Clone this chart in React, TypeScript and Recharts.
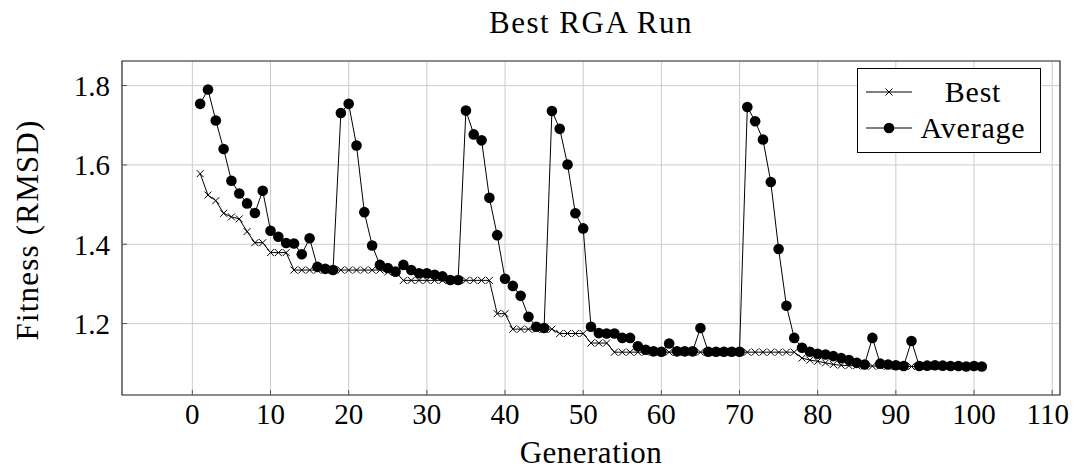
import { LineChart, Line, XAxis, YAxis, CartesianGrid, Legend, ReferenceArea } from 'recharts';

const FONT = '"Liberation Serif", "Times New Roman", serif';

// generations 1..101
const generations = Array.from({ length: 101 }, (_, i) => i + 1);

const bestFitness = [
  1.578, 1.524, 1.510, 1.478, 1.469, 1.464, 1.432, 1.404, 1.404, 1.379,
  1.379, 1.379, 1.335, 1.335, 1.335, 1.335, 1.335, 1.335, 1.335, 1.335,
  1.335, 1.335, 1.335, 1.335, 1.330, 1.330, 1.309, 1.309, 1.309, 1.309,
  1.309, 1.309, 1.309, 1.309, 1.309, 1.309, 1.309, 1.309, 1.225, 1.225,
  1.186, 1.186, 1.186, 1.186, 1.186, 1.186, 1.175, 1.175, 1.175, 1.175,
  1.151, 1.151, 1.151, 1.128, 1.128, 1.128, 1.128, 1.128, 1.128, 1.128,
  1.128, 1.128, 1.128, 1.128, 1.128, 1.128, 1.128, 1.128, 1.128, 1.128,
  1.128, 1.128, 1.128, 1.128, 1.128, 1.128, 1.128, 1.113, 1.108, 1.105,
  1.101, 1.097, 1.095, 1.094, 1.094, 1.093, 1.093, 1.093, 1.093, 1.093,
  1.093, 1.092, 1.092, 1.092, 1.092, 1.092, 1.092, 1.092, 1.092, 1.092,
  1.092,
];

const averageFitness = [
  1.754, 1.790, 1.712, 1.640, 1.560, 1.528, 1.503, 1.479, 1.535, 1.434,
  1.419, 1.403, 1.402, 1.375, 1.415, 1.343, 1.338, 1.335, 1.731, 1.754,
  1.649, 1.481, 1.397, 1.348, 1.340, 1.331, 1.348, 1.335, 1.327, 1.327,
  1.323, 1.319, 1.310, 1.310, 1.737, 1.677, 1.662, 1.517, 1.423, 1.313,
  1.295, 1.270, 1.217, 1.192, 1.189, 1.736, 1.691, 1.601, 1.478, 1.440,
  1.192, 1.176, 1.175, 1.175, 1.164, 1.164, 1.143, 1.134, 1.130, 1.129,
  1.150, 1.130, 1.130, 1.130, 1.189, 1.129, 1.129, 1.129, 1.129, 1.129,
  1.746, 1.710, 1.664, 1.557, 1.388, 1.245, 1.164, 1.139, 1.129, 1.124,
  1.122, 1.118, 1.113, 1.108, 1.101, 1.097, 1.164, 1.099, 1.097, 1.095,
  1.093, 1.156, 1.093, 1.094, 1.095, 1.094, 1.093, 1.093, 1.092, 1.093,
  1.092,
];

const xTicks = [0, 10, 20, 30, 40, 50, 60, 70, 80, 90, 100, 110];
const yTicks = [1.2, 1.4, 1.6, 1.8];

const data = generations.map((g, i) => ({
  gen: g,
  best: bestFitness[i],
  average: averageFitness[i],
}));

const CrossDot = (props: any) => {
  const { cx, cy, index } = props;
  if (cx == null || cy == null) return null;
  const s = 3.5;
  return (
    <path
      key={`cross-${index}`}
      d={`M${cx - s},${cy - s}L${cx + s},${cy + s}M${cx - s},${cy + s}L${cx + s},${cy - s}`}
      stroke="#000"
      strokeWidth={1}
      fill="none"
    />
  );
};

const renderLegend = () => {
  const row = (label: string, marker: 'cross' | 'dot') => (
    <div style={{ display: 'flex', alignItems: 'center', height: 36 }}>
      <svg width={60} height={36}>
        <line x1={8} y1={18} x2={54} y2={18} stroke="#000" strokeWidth={1} />
        {marker === 'cross' ? (
          <path d="M27.5,14.5L34.5,21.5M27.5,21.5L34.5,14.5" stroke="#000" strokeWidth={1} />
        ) : (
          <circle cx={31} cy={18} r={5.3} fill="#000" />
        )}
      </svg>
      <span style={{ width: 110, textAlign: 'center', lineHeight: '36px', letterSpacing: 0.8 }}>
        {label}
      </span>
    </div>
  );
  return (
    <div
      style={{
        width: 184,
        height: 85,
        border: '1px solid #000',
        background: '#fff',
        boxSizing: 'border-box',
        paddingTop: 5,
        fontFamily: FONT,
        fontSize: 30,
        color: '#000',
      }}
    >
      {row('Best', 'cross')}
      {row('Average', 'dot')}
    </div>
  );
};

export default function App() {
  return (
    <div style={{ position: 'relative', width: 1061, height: 461, fontFamily: FONT }}>
      <LineChart
        width={1061}
        height={461}
        data={data}
        margin={{ top: 53, right: 9, bottom: 44, left: 54 }}
      >
        <CartesianGrid stroke="#cccccc" strokeWidth={1} />
        <XAxis
          dataKey="gen"
          type="number"
          domain={[-9, 111]}
          ticks={xTicks}
          allowDataOverflow
          height={30}
          axisLine={false}
          tickSize={-5}
          tickMargin={13}
          tickLine={{ stroke: '#555' }}
          tick={{ fill: '#000', fontSize: 29, fontFamily: FONT }}
        />
        <YAxis
          type="number"
          domain={[1.02, 1.862]}
          ticks={yTicks}
          allowDataOverflow
          width={60}
          axisLine={false}
          tickSize={-5}
          tickMargin={17}
          tickLine={{ stroke: '#555' }}
          tickFormatter={(v: number) => v.toFixed(1)}
          tick={{ fill: '#000', fontSize: 29, fontFamily: FONT }}
        />
        <ReferenceArea
          x1={-9}
          x2={111}
          y1={1.02}
          y2={1.862}
          fill="none"
          stroke="#333"
          strokeWidth={1.2}
        />
        <Legend
          layout="horizontal"
          verticalAlign="middle"
          align="center"
          content={renderLegend}
          wrapperStyle={{ top: 60, left: 849, width: 184, height: 85 }}
        />
        <Line
          type="linear"
          dataKey="best"
          name="Best"
          stroke="#000"
          strokeWidth={1}
          dot={CrossDot}
          activeDot={false}
          isAnimationActive={false}
        />
        <Line
          type="linear"
          dataKey="average"
          name="Average"
          stroke="#000"
          strokeWidth={1}
          dot={{ r: 5.3, fill: '#000', stroke: 'none' }}
          activeDot={false}
          isAnimationActive={false}
        />
      </LineChart>
      {/* text overlay, shifted up by the body margin so the title has room */}
      <svg
        width={1061}
        height={469}
        style={{ position: 'absolute', left: 0, top: -8, pointerEvents: 'none', overflow: 'visible' }}
      >
        <text
          x={583}
          y={33}
          textAnchor="middle"
          fontSize={31}
          letterSpacing={1.5}
          fontFamily={FONT}
          fill="#000"
        >
          Best RGA Run
        </text>
        <text
          x={583}
          y={463}
          textAnchor="middle"
          fontSize={31}
          letterSpacing={0.5}
          fontFamily={FONT}
          fill="#000"
        >
          Generation
        </text>
        <text
          x={0}
          y={0}
          transform="translate(30,230) rotate(-90)"
          textAnchor="middle"
          fontSize={31}
          letterSpacing={1.2}
          fontFamily={FONT}
          fill="#000"
        >
          Fitness (RMSD)
        </text>
      </svg>
    </div>
  );
}
